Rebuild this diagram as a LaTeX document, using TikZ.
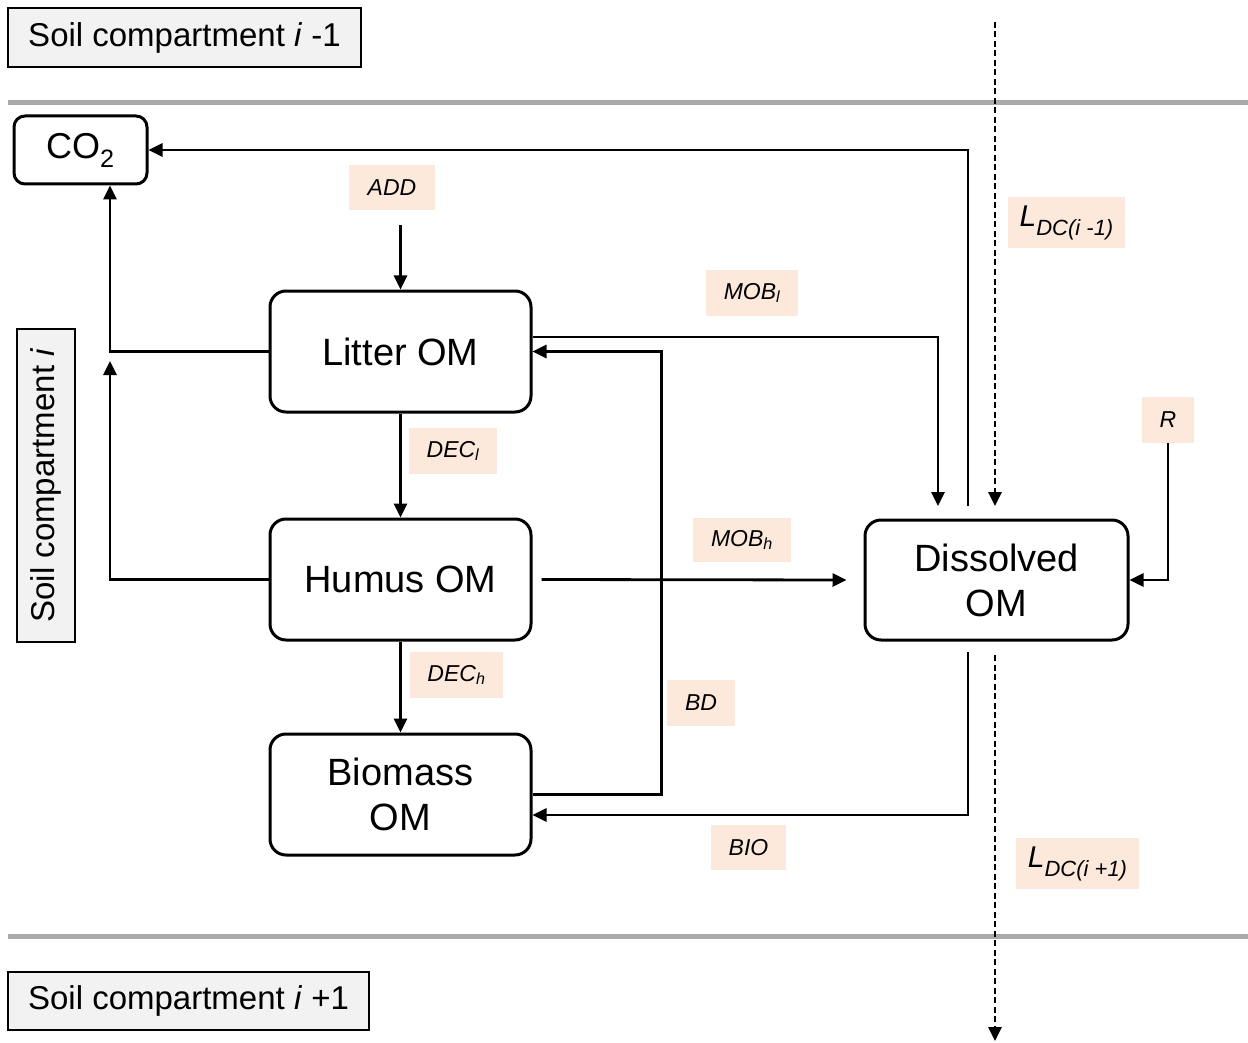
\documentclass[tikz,border=0pt]{standalone}
\usepackage{fontspec}
\setmainfont{Liberation Sans}
\usetikzlibrary{arrows.meta,calc}
\definecolor{peach}{RGB}{252,233,219}
\definecolor{sepgray}{RGB}{170,170,170}
\definecolor{compfill}{RGB}{242,242,242}
\newcommand{\lsub}[1]{\raisebox{-0.3em}{\fontsize{22}{24}\selectfont #1}}
\begin{document}
\begin{tikzpicture}[x=1pt,y=-1pt,
 box/.style={draw,line width=3pt,rounded corners=16pt,minimum width=261pt,minimum height=121pt,inner sep=0pt,align=center,font=\fontsize{38}{45}\selectfont},
 lbl/.style={fill=peach,inner sep=0pt,font=\fontsize{23}{27}\selectfont\itshape},
 llbl/.style={fill=peach,inner sep=0pt,font=\fontsize{30}{34}\selectfont\itshape},
 comp/.style={draw,fill=compfill,line width=1.3pt,inner sep=0pt,font=\fontsize{33}{40}\selectfont},
 arr/.style={line width=2.8pt,-{Triangle[length=14pt,width=13pt]}},
 dsh/.style={line width=2.8pt,dash pattern=on 6pt off 3.5pt,-{Triangle[length=14pt,width=13pt]}},
 sepline/.style={line width=5pt,draw=sepgray}]
\useasboundingbox (0,0) rectangle (1248,1043);

% separator lines
\coordinate (s1a) at (8,103); \coordinate (s1b) at (1248,103);
\coordinate (s2a) at (8,936); \coordinate (s2b) at (1248,936);
\draw[sepline] (s1a) -- (s1b);
\draw[sepline] (s2a) -- (s2b);

% compartment labels
\node[comp,minimum width=353pt,minimum height=59pt] (ctop) at (184.5,37.5) {Soil compartment \textit{i} -1};
\node[comp,minimum width=361pt,minimum height=58pt] (cbot) at (188.5,1001) {Soil compartment \textit{i} +1};
\node[comp,minimum width=313pt,minimum height=58pt,rotate=90] (cmid) at (46,485.5) {Soil compartment \textit{i}};

% main boxes
\node[box,minimum width=133pt,minimum height=68pt,rounded corners=11pt,font=\fontsize{36}{42}\selectfont] (co2) at (80.5,150) {CO\textsubscript{2}};
\node[box] (litter) at (400.5,351.5) {Litter OM};
\node[box] (humus) at (400.5,579.5) {Humus OM};
\node[box] (biomass) at (400.5,794.5) {Biomass\\OM};
\node[box,minimum width=263pt,minimum height=120pt] (diss) at (996.5,580) {Dissolved\\OM};

% flux labels
\node[lbl,minimum width=86pt,minimum height=45pt] (add) at (392,187.5) {ADD};
\node[llbl,minimum width=117pt,minimum height=51pt] (ltop) at (1066.5,222.5) {L\lsub{DC(i -1)}};
\node[lbl,minimum width=92pt,minimum height=46pt] (mobl) at (752,293) {MOB\textsubscript{l}};
\node[lbl,minimum width=88pt,minimum height=46pt] (decl) at (453,451) {DEC\textsubscript{l}};
\node[lbl,minimum width=98pt,minimum height=44pt] (mobh) at (742,540) {MOB\textsubscript{h}};
\node[lbl,minimum width=52pt,minimum height=46pt] (r) at (1168,420) {R};
\node[lbl,minimum width=93pt,minimum height=46pt] (dech) at (456.5,675) {DEC\textsubscript{h}};
\node[lbl,minimum width=68pt,minimum height=46pt] (bd) at (701,703) {BD};
\node[lbl,minimum width=75pt,minimum height=45pt] (bio) at (748.5,847.5) {BIO};
\node[llbl,minimum width=123pt,minimum height=51pt] (lbot) at (1077.5,863.5) {L\lsub{DC(i +1)}};

% coordinates for free ends
\coordinate (addstart) at (400.5,225);
\coordinate (humusup) at (110,361);
\coordinate (moblend) at (938,506);
\coordinate (co2start) at (968,506);
\coordinate (biostart) at (968,652);
\coordinate (dtop1) at (995,22);
\coordinate (dtop2) at (995,506);
\coordinate (dbot1) at (995,655);
\coordinate (dbot2) at (995,1041);

% connectors
\draw[arr] (addstart) -- (litter.north);
\draw[arr] (litter.south) -- (humus.north);
\draw[arr] (humus.south) -- (biomass.north);
\draw[arr] (litter.west) -| ([xshift=29.5pt]co2.south);
\draw[arr] (humus.west) -| (humusup);
\draw[arr] ([yshift=14.5pt]litter.east) -| (moblend);
\draw[arr] (biomass.east) -- ++(129,0) |- (litter.east);
\draw[arr] ([xshift=9pt]humus.east) -- ([xshift=-17pt]diss.west);
\draw[arr] (co2start) |- (co2.east);
\draw[arr] (r.south) |- (diss.east);
\draw[arr] (biostart) |- ([yshift=-20.5pt]biomass.east);
\draw[dsh] (dtop1) -- (dtop2);
\draw[dsh] (dbot1) -- (dbot2);
\end{tikzpicture}
\end{document}
